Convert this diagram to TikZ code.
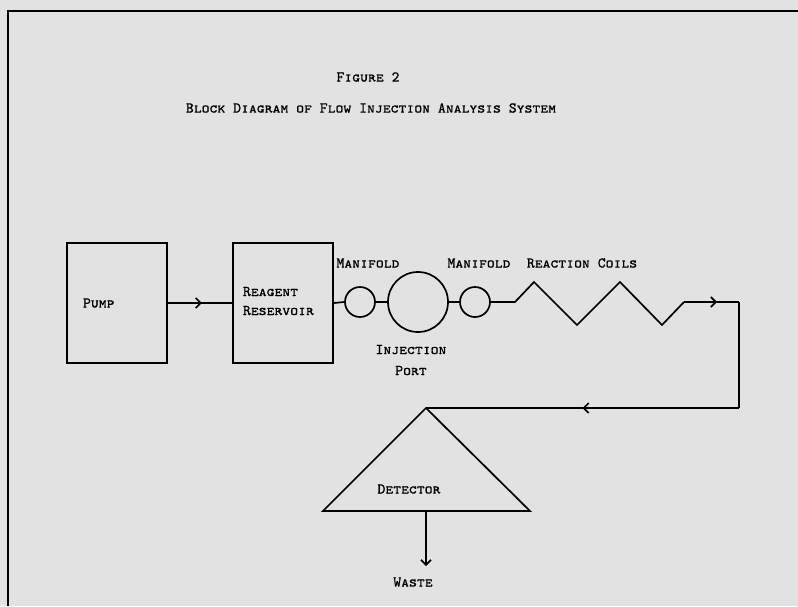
\documentclass[tikz,border=0pt]{standalone}
\usepackage{fontspec}
\usepackage{tikz}
\usetikzlibrary{arrows.meta,positioning,decorations.markings}

\newfontfamily\lettering{lmmonocaps10-regular.otf}[FakeBold=0.9]
\definecolor{paper}{RGB}{226,226,226}

\tikzset{
  lbl/.style={font=\fontsize{15}{19}\selectfont\lettering, inner sep=0pt},
  blockbox/.style={draw, line width=1.7pt, minimum width=100pt, minimum height=120pt, inner sep=0pt},
  valve/.style={draw, circle, line width=1.7pt, inner sep=0pt},
  chevron/.tip={Straight Barb[length=5pt, width=10pt, line width=1.7pt]},
  flow/.style={decoration={markings, mark=at position #1 with {\arrow{chevron}}}, postaction={decorate}}
}

\begin{document}
\begin{tikzpicture}[x=1pt, y=-1pt, line width=1.7pt, line join=miter]
  % 0. Page and frame
  \useasboundingbox (0,0) rectangle (798,606);
  \fill[paper] (0,0) rectangle (798,606);
  \draw[line width=2.2pt] (8,606) -- (8,11) -- (798,11);

  % 1. Titles
  \node[lbl] (fig) at (368,77) {Figure 2};
  \node[lbl] (caption) at (371,108) {Block Diagram of Flow Injection Analysis System};

  % 2. Blocks
  \node[blockbox] (pump) at (117,303) {};
  \node[lbl, anchor=west] (pumplbl) at ([xshift=16pt]pump.west) {Pump};
  \node[blockbox] (reagent) at (283,303) {};
  \node[lbl, anchor=west, align=left] (reagentlbl) at ([xshift=10pt, yshift=2pt]reagent.west) {Reagent\\Reservoir};

  % 3. Manifolds and injection port
  \node[valve, minimum size=30pt] (mfa) at (360,302) {};
  \node[valve, minimum size=60pt] (inj) at (418,302) {};
  \node[valve, minimum size=30pt] (mfb) at (475,302) {};
  \node[lbl] (mfalbl) at (368,263) {Manifold};
  \node[lbl] (mfblbl) at (479,263) {Manifold};
  \node[lbl, align=center, font=\fontsize{15}{21}\selectfont\lettering] (injlbl) at (411,360) {Injection\\Port};

  % 4. Reaction coils and return line
  \coordinate (coilin)  at (515,302);
  \coordinate (coilout) at (684,302);
  \coordinate (turnA)   at (739,302);
  \coordinate (turnB)   at (739,408);
  \coordinate (apex)    at (426,408);
  \node[lbl] (coillbl) at (582,263) {Reaction Coils};

  \draw[flow=0.53] (pump.east) -- (reagent.west);
  \draw (reagent.east) -- (mfa.west);
  \draw (mfa.east) -- (inj.west);
  \draw (inj.east) -- (mfb.west);
  \draw (mfb.east) -- (coilin) -- ++(19,-20) -- ++(43,43) -- ++(43,-43) -- ++(42,43) -- (coilout);
  \draw[flow=0.6] (coilout) -- (turnA);
  \draw (turnA) -- (turnB);
  \draw[flow=0.5] (turnB) -- (apex);

  % 5. Detector and waste
  \coordinate (baseL) at (323,511);
  \coordinate (baseR) at (530,511);
  \coordinate (drain) at (426,511);
  \coordinate (sink)  at (426,566);
  \draw (apex) -- (baseL) -- (baseR) -- cycle;
  \node[lbl] (detlbl) at (409,489) {Detector};
  \draw[-chevron] (drain) -- (sink);
  \node[lbl] (waste) at (413,582) {Waste};
\end{tikzpicture}
\end{document}
